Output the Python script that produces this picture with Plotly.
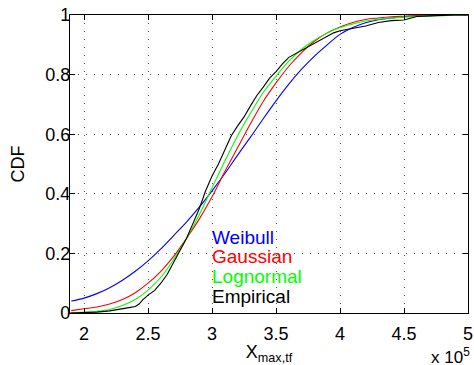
import plotly.graph_objects as go

# fitted CDF curves, read at x = 1.9 .. 5.0 (units of 1e5)
x_fit = [1.9, 2.0, 2.1, 2.2, 2.3, 2.4, 2.5, 2.6, 2.7, 2.8, 2.9, 3.0, 3.1, 3.2, 3.3, 3.4,
         3.5, 3.6, 3.7, 3.8, 3.9, 4.0, 4.1, 4.2, 4.3, 4.4, 4.5, 4.6, 4.7, 4.8, 4.9, 5.0]
weibull = [0.04, 0.05, 0.065, 0.085, 0.11, 0.14, 0.175, 0.215, 0.26, 0.305, 0.355, 0.41,
           0.468, 0.53, 0.59, 0.652, 0.712, 0.768, 0.818, 0.862, 0.9, 0.935, 0.958, 0.974,
           0.984, 0.99, 0.994, 0.997, 0.998, 0.999, 1.0, 1.0]
gaussian = [0.008, 0.014, 0.02, 0.03, 0.045, 0.068, 0.1, 0.14, 0.19, 0.25, 0.315, 0.39,
            0.475, 0.555, 0.635, 0.71, 0.772, 0.828, 0.874, 0.912, 0.94, 0.96, 0.975, 0.985,
            0.99, 0.994, 0.996, 0.998, 0.999, 1.0, 1.0, 1.0]
lognormal = [0.001, 0.003, 0.006, 0.012, 0.025, 0.045, 0.077, 0.12, 0.18, 0.25, 0.33, 0.42,
             0.51, 0.595, 0.67, 0.74, 0.795, 0.845, 0.885, 0.915, 0.94, 0.958, 0.97, 0.98,
             0.986, 0.99, 0.993, 0.995, 0.997, 0.998, 0.999, 1.0]

# empirical CDF
x_emp = [1.89, 2.0, 2.1, 2.2, 2.3, 2.35, 2.4, 2.43, 2.46, 2.5, 2.55, 2.6, 2.65, 2.7, 2.75,
         2.8, 2.85, 2.9, 2.95, 3.0, 3.05, 3.1, 3.15, 3.2, 3.25, 3.3, 3.35, 3.4, 3.45, 3.5,
         3.55, 3.6, 3.65, 3.7, 3.75, 3.8, 3.85, 3.9, 3.95, 4.0, 4.1, 4.2, 4.3, 4.4, 4.5,
         4.55, 4.6, 4.7, 4.8, 4.9, 5.0]
empirical = [0.0, 0.001, 0.003, 0.007, 0.013, 0.018, 0.022, 0.03, 0.045, 0.06, 0.075, 0.1,
             0.13, 0.17, 0.21, 0.25, 0.3, 0.35, 0.41, 0.46, 0.5, 0.55, 0.595, 0.628, 0.658,
             0.695, 0.73, 0.758, 0.788, 0.81, 0.836, 0.858, 0.87, 0.88, 0.894, 0.905, 0.918,
             0.93, 0.94, 0.947, 0.955, 0.963, 0.975, 0.981, 0.983, 0.99, 0.995, 0.997, 0.999,
             1.0, 1.0]

labels = ["Weibull", "Gaussian", "Lognormal", "Empirical"]
label_y = [0.252, 0.188, 0.124, 0.057]
colors = ["#0000ff", "#ff0000", "#00ff00", "#000000"]

x_ticks = [2, 2.5, 3, 3.5, 4, 4.5, 5]
y_ticks = [0, 0.2, 0.4, 0.6, 0.8, 1]

fig = go.Figure()
for name, xs, ys, c in [("Weibull", x_fit, weibull, colors[0]),
                        ("Gaussian", x_fit, gaussian, colors[1]),
                        ("Lognormal", x_fit, lognormal, colors[2]),
                        ("Empirical", x_emp, empirical, colors[3])]:
    fig.add_trace(go.Scatter(x=xs, y=ys, mode="lines", name=name,
                             line=dict(color=c, width=1.1),
                             line_shape="spline" if name != "Empirical" else "linear"))

for t, yv, c in zip(labels, label_y, colors):
    fig.add_annotation(x=3.0, y=yv, xref="x", yref="y", text=t, showarrow=False,
                       xanchor="left", yanchor="middle", xshift=-2,
                       font=dict(color=c, size=19))

fig.add_annotation(x=1.0, y=-0.1, xref="paper", yref="paper", yanchor="top", xanchor="right",
                   text="x 10<sup>5</sup>", showarrow=False, xshift=4,
                   font=dict(size=17, color="black"))

axis_common = dict(showline=True, linecolor="black", linewidth=1.3, mirror="ticks",
                   ticks="inside", ticklen=5, tickcolor="black", automargin=False,
                   showgrid=True, gridcolor="#555555", griddash="1px,7px", gridwidth=1,
                   zeroline=False, tickfont=dict(size=18, color="black"))

fig.update_layout(
    width=474, height=365,
    margin=dict(l=70, r=6, t=15, b=52),
    paper_bgcolor="white", plot_bgcolor="white",
    showlegend=False,
    font=dict(family="Liberation Sans, Arial, sans-serif", color="black"),
    xaxis=dict(range=[1.89, 5.0], tickvals=x_ticks, ticktext=[str(v) for v in x_ticks],
               title=dict(text="X<sub>max,tf</sub>", font=dict(size=18), standoff=0),
               ticklabelstandoff=4,
               **axis_common),
    yaxis=dict(range=[0, 1], tickvals=y_ticks, ticktext=[f"{v:g}" for v in y_ticks],
               title=dict(text="CDF", font=dict(size=18), standoff=15),
               ticklabelstandoff=-5,
               **axis_common),
)

fig.write_html("out.html")
